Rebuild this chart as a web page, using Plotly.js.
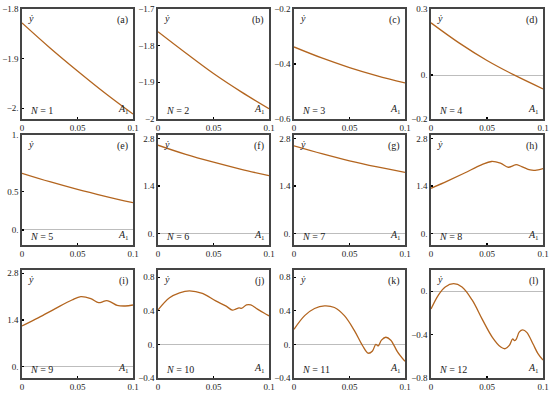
<!DOCTYPE html>
<html>
<head>
<meta charset="utf-8">
<script src="https://cdn.plot.ly/plotly-3.0.1.min.js"></script>
<style>html,body{margin:0;padding:0;background:#fff;}#chart{width:550px;height:394px;}</style>
</head>
<body>
<div id="chart"></div>
<script>
// ---- data ----
const xShort = [0, 0.025, 0.05, 0.075, 0.1];
const yA = [-1.828, -1.878, -1.925, -1.970, -2.012];
const yB = [-1.762, -1.820, -1.876, -1.926, -1.972];
const yC = [-0.338, -0.378, -0.413, -0.443, -0.469];
const yD = [0.237, 0.146, 0.066, -0.002, -0.063];
const yE = [0.74, 0.63, 0.53, 0.44, 0.356];
const yF = [2.60, 2.33, 2.10, 1.89, 1.70];
const yG = [2.58, 2.35, 2.14, 1.96, 1.80];

const xH = [0, 0.015, 0.03, 0.045, 0.054, 0.062, 0.069, 0.073, 0.076, 0.081, 0.0886, 0.093, 0.1];
const yH = [1.33, 1.55, 1.78, 2.02, 2.12, 2.07, 1.95, 1.99, 2.03, 1.97, 1.87, 1.86, 1.91];
const xI = [0, 0.015, 0.03, 0.045, 0.053, 0.062, 0.069, 0.073, 0.076, 0.0805, 0.0857, 0.093, 0.1];
const yI = [1.22, 1.47, 1.74, 2.00, 2.10, 2.04, 1.92, 1.95, 1.98, 1.93, 1.84, 1.82, 1.85];
const xJ = [0, 0.0104, 0.0194, 0.0284, 0.040, 0.052, 0.061, 0.067, 0.070, 0.073, 0.0755, 0.0797, 0.0836, 0.0896, 0.0955, 0.1];
const yJ = [0.41, 0.555, 0.614, 0.637, 0.606, 0.517, 0.458, 0.408, 0.42, 0.435, 0.43, 0.47, 0.47, 0.42, 0.373, 0.34];
const xK = [0, 0.0096, 0.0185, 0.0275, 0.0364, 0.0454, 0.0543, 0.0618, 0.0669, 0.0707, 0.0737, 0.0758, 0.0788, 0.0827, 0.0872, 0.0931, 0.1];
const yK = [0.179, 0.342, 0.427, 0.458, 0.439, 0.342, 0.167, -0.016, -0.105, -0.078, 0.0, -0.019, 0.05, 0.085, 0.05, -0.085, -0.202];
const xL = [0, 0.0066, 0.0127, 0.0202, 0.0277, 0.0367, 0.0458, 0.0548, 0.0623, 0.0663, 0.0699, 0.0729, 0.0744, 0.0759, 0.0789, 0.0819, 0.0855, 0.091, 0.0955, 0.1];
const yL = [-0.165, -0.036, 0.039, 0.069, 0.039, -0.081, -0.26, -0.425, -0.515, -0.53, -0.50, -0.44, -0.455, -0.446, -0.375, -0.357, -0.38, -0.485, -0.575, -0.635];

const panelLabels = ['(a)','(b)','(c)','(d)','(e)','(f)','(g)','(h)','(i)','(j)','(k)','(l)'];
const nValues = [1,2,3,4,5,6,7,8,9,10,11,12];
const xTickVals = [0, 0.05, 0.1];
const xTickText = ['0', '0.05', '0.1'];

const yRanges = [[-2.022,-1.8],[-2,-1.7],[-0.6,-0.2],[-0.2,0.3],[-0.196,1.24],[-0.34,2.9],[-0.34,2.9],[-0.34,2.9],[-0.34,2.9],[-0.4,0.885],[-0.4,0.885],[-0.8,0.195]];
const yTickVals = [[-1.8,-1.9,-2.0],[-1.7,-1.8,-1.9,-2.0],[-0.2,-0.4,-0.6],[0.3,0,-0.2],[1.24,0.5,0],[2.8,1.4,0],[2.8,1.4,0],[2.8,1.4,0],[2.8,1.4,0],[0.8,0.4,0,-0.4],[0.8,0.4,0,-0.4],[0,-0.4,-0.8]];
const yTickText = [['−1.8','−1.9','−2.'],['−1.7','−1.8','−1.9','−2'],['−0.2','−0.4','−0.6'],['0.3','0.','−0.2'],['1.','0.5','0.'],['2.8','1.4','0.'],['2.8','1.4','0.'],['2.8','1.4','0.'],['2.8','1.4','0.'],['0.8','0.4','0.','−0.4'],['0.8','0.4','0.','−0.4'],['0.','−0.4','−0.8']];

const seriesX = [xShort,xShort,xShort,xShort,xShort,xShort,xShort,xH,xI,xJ,xK,xL];
const seriesY = [yA,yB,yC,yD,yE,yF,yG,yH,yI,yJ,yK,yL];

// ---- layout geometry (pixels) ----
const W = 550, H = 394;
const colPx = [[22,133],[158,269],[294,405],[431,543]];
const rowPx = [[9,119],[135,245],[270,378]];

const FONT = '"Liberation Serif", "DejaVu Serif", Times, serif';
const LINE = '#b3651f';
const FRAME = '#454545';

const traces = [];
const layout = {
  width: W, height: H,
  margin: {l:0, r:0, t:0, b:0},
  paper_bgcolor: '#fff', plot_bgcolor: '#fff',
  showlegend: false,
  font: {family: FONT, size: 9, color: '#222'},
  annotations: []
};

for (let i = 0; i < 12; i++) {
  const n = i + 1;
  const sx = n === 1 ? '' : String(n);
  const r = Math.floor(i / 4), c = i % 4;
  const xd = [colPx[c][0] / W, colPx[c][1] / W];
  const yd = [1 - rowPx[r][1] / H, 1 - rowPx[r][0] / H];
  traces.push({
    type: 'scatter', mode: 'lines',
    x: seriesX[i], y: seriesY[i],
    xaxis: 'x' + sx, yaxis: 'y' + sx,
    line: {color: LINE, width: 1.3, shape: 'spline', smoothing: 1},
    hoverinfo: 'skip'
  });
  layout['xaxis' + sx] = {
    domain: xd, anchor: 'y' + sx, range: [0, 0.1],
    tickmode: 'array', tickvals: xTickVals, ticktext: xTickText,
    showline: true, mirror: true, linecolor: FRAME, linewidth: 1.6,
    ticks: 'inside', ticklen: 2, tickwidth: 1.2, tickcolor: '#000',
    showgrid: false, zeroline: false, fixedrange: true,
    tickfont: {family: FONT, size: 9, color: '#222'}
  };
  layout['yaxis' + sx] = {
    domain: yd, anchor: 'x' + sx, range: yRanges[i],
    tickmode: 'array', tickvals: yTickVals[i], ticktext: yTickText[i],
    showline: true, mirror: true, linecolor: FRAME, linewidth: 1.6,
    ticks: 'inside', ticklen: 2, tickwidth: 1.2, tickcolor: '#000',
    showgrid: false, zeroline: true, zerolinecolor: '#bdbdbd', zerolinewidth: 1,
    fixedrange: true,
    tickfont: {family: FONT, size: 9, color: '#222'}
  };
  const xr = 'x' + sx + ' domain', yr = 'y' + sx + ' domain';
  layout.annotations.push(
    {xref: xr, yref: yr, x: 0.04, y: 0.985, xanchor: 'left', yanchor: 'top', showarrow: false,
     text: '<i>y\u0307</i>', font: {family: FONT, size: 10, color: '#222'}},
    {xref: xr, yref: yr, x: 0.97, y: 0.975, xanchor: 'right', yanchor: 'top', showarrow: false,
     text: panelLabels[i], font: {family: FONT, size: 10, color: '#222'}},
    {xref: xr, yref: yr, x: 0.05, y: 0.01, xanchor: 'left', yanchor: 'bottom', showarrow: false,
     text: '<i>N</i> = ' + nValues[i], font: {family: FONT, size: 10, color: '#222'}},
    {xref: xr, yref: yr, x: 0.985, y: 0.01, xanchor: 'right', yanchor: 'bottom', showarrow: false,
     text: '<i>A</i><sub>1</sub>', font: {family: FONT, size: 10, color: '#222'}}
  );
}

Plotly.newPlot('chart', traces, layout, {staticPlot: true, displayModeBar: false});
</script>
</body>
</html>
